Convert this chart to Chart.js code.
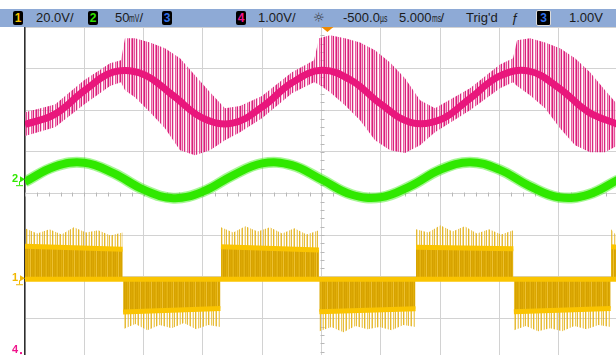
<!DOCTYPE html>
<html><head><meta charset="utf-8">
<script src="https://cdn.jsdelivr.net/npm/chart.js@4.4.0/dist/chart.umd.min.js"></script>
<style>
html,body{margin:0;padding:0;background:#fff;overflow:hidden;width:616px;height:355px;}
#wrap{position:relative;width:616px;height:355px;overflow:hidden;background:#fff;}
#c{position:absolute;left:0;top:0;}
#bar{position:absolute;left:0;top:9px;width:616px;height:18px;background:#8eaad6;font-family:"Liberation Sans",Arial,sans-serif;font-size:13px;color:#1b1b1b;}
#bar span.t{position:absolute;top:0;line-height:18px;white-space:nowrap;}
#bar span.badge{position:absolute;top:2px;height:14px;width:10px;line-height:14px;background:#000;text-align:center;font-weight:bold;border-radius:2px;font-size:12px;}
.u{display:inline-block;width:9px;font-size:11px;transform:scaleX(.62);transform-origin:0 50%;white-space:nowrap;}
</style></head>
<body>
<div id="wrap">
<canvas id="c" width="618" height="360"></canvas>
<div id="bar">
 <span class="badge" style="left:13px;color:#f5c400">1</span>
 <span class="t" style="left:36px">20.0V/</span>
 <span class="badge" style="left:88px;color:#33e000">2</span>
 <span class="t" style="left:115px">50<span class="u" style="width:10px">mV</span>/</span>
 <span class="badge" style="left:162px;color:#3070e8">3</span>
 <span class="badge" style="left:236px;color:#f0148c">4</span>
 <span class="t" style="left:258px">1.00V/</span>
 <span class="t" style="left:313px;font-family:'DejaVu Sans';color:#333">☼</span>
 <span class="t" style="left:343px">-500.0<span class="u" style="width:8px">µs</span></span>
 <span class="t" style="left:399px">5.000<span class="u">ms</span>/</span>
 <span class="t" style="left:466px">Trig'd</span>
 <span class="t" style="left:511px;font-style:italic">ƒ</span>
 <span class="badge" style="left:536px;top:1px;width:13px;height:14px;border:1px solid #dcdcdc;color:#3070e8">3</span>
 <span class="t" style="left:569px">1.00V</span>
</div>
</div>
<script>
// ---------- screen divisions ----------
const divTimes = [-25.5,-20.5,-15.5,-10.5,-5.5,-0.5,4.5,9.5,14.5,19.5,24.5]; // ms, 5 ms/div
const divLevels = [-4,-3,-2,-1,0,1,2,3,4];
const centerTime = -0.5;   // delay -500 us
const triggerTime = 0;

// ---------- channel settings ----------
const ch1VoltsPerDiv = 20,  ch1ZeroDiv = -2.06;   // yellow, V
const ch2MilliVoltsPerDiv = 50, ch2ZeroDiv = 0.32; // green, mV
const ch4VoltsPerDiv = 1,   ch4ZeroDiv = -3.81;   // pink, V

// ---------- sampled traces ----------
const sampleTimes = [-25.5,-23,-20.5,-18,-15.5,-13,-10.5,-8,-5.5,-3,-0.5,2,4.5,7,9.5,12,14.5,17,19.5,22,24.5];
const ch2MilliVolts = [-2.0,16.3,21.0,8.2,-11.4,-21.6,-13.7,5.6,20.2,18.0,0.8,-17.2,-20.6,-7.1,12.5,21.6,12.7,-6.8,-20.6,-17.3,0.4];
const ch4Volts = [5.47,5.71,6.28,6.73,6.67,6.16,5.62,5.50,5.89,6.47,6.77,6.53,5.96,5.52,5.58,6.09,6.63,6.75,6.35,5.77,5.47];

const ch4EnvTimes = [-25.5,-22.97,-20.52,-18.33,-17.41,-17.07,-16.23,-14.96,-13.70,-12.43,-11.17,-9.90,-8.64,-7.37,-5.52,-2.99,-1.13,-0.71,0.22,1.48,2.75,4.01,5.28,6.54,7.81,9.07,12.02,14.55,15.65,15.99,17.08,18.35,19.61,20.88,22.14,23.41,24.5];
const ch4EnvHigh = [5.76,5.95,6.53,6.94,7.01,7.54,7.54,7.44,7.30,7.06,6.65,6.24,5.86,5.91,6.15,6.72,7.01,7.54,7.61,7.54,7.44,7.25,6.96,6.58,6.05,5.86,6.34,6.91,7.06,7.49,7.54,7.44,7.30,7.06,6.72,6.29,5.93];
const ch4EnvLow  = [5.19,5.40,5.95,6.39,6.48,6.29,6.12,5.76,5.38,4.85,4.73,4.85,5.09,5.28,5.62,6.22,6.48,6.43,6.24,5.93,5.57,5.09,4.85,4.78,4.97,5.28,5.81,6.34,6.48,6.39,6.17,5.86,5.38,4.97,4.80,4.80,4.97];

// ch1: PWM, polarity flips at these times (first half-cycle positive)
const ch1SwitchTimes = [-17.25,-9.0,-0.7,7.45,15.7,23.9];
const ch1LevelStart = [15.8,-15.7,15.6,-15.6,15.4,-15.6,15.6];
const ch1LevelEnd   = [14.4,-14.0,14.0,-14.2,14.6,-14.0,15.4];
const ch1SpikePeaks = [
  [24.5,22,24,21.5,25,22.5,23.5,21,22.5],
  [-24,-21.5,-24.5,-22,-23.5,-21,-24,-22,-23],
  [25,22.5,25.5,23,25,22,24.5,21.5,23.5],
  [-25,-23,-25.5,-22.5,-24,-23,-24.5,-22,-23],
  [24,22.5,26,23,25.5,22,24,21.5,23.5],
  [-24.5,-22.5,-25,-23.5,-25,-22.5,-24,-22,-23],
  [24,20]
];

// ---------- build point lists ----------
const pts = (xs, ys) => xs.map((t, i) => ({x: t, y: ys[i]}));
const tStart = divTimes[0], tEnd = divTimes[divTimes.length - 1];
const segBounds = [tStart, ...ch1SwitchTimes, tEnd];
const ch1LevelData = [], ch1SpikeData = [];
for (let i = 0; i < segBounds.length - 1; i++) {
  const last = i === segBounds.length - 2;
  const a = segBounds[i] + (i ? 0.02 : 0), b = segBounds[i + 1] - (last ? 0 : 0.02);
  ch1LevelData.push({x: a, y: ch1LevelStart[i]}, {x: b, y: ch1LevelEnd[i]});
  const pk = ch1SpikePeaks[i];
  pk.forEach((v, j) => ch1SpikeData.push({x: a + (b - a) * j / (pk.length - 1), y: v}));
  if (!last) { ch1LevelData.push({x: segBounds[i + 1], y: null}); ch1SpikeData.push({x: segBounds[i + 1], y: null}); }
}
const ch1ZeroData = [{x: tStart, y: 0}, {x: tEnd, y: 0}];

// ---------- styles ----------
const canvas = document.getElementById('c');
const ctx = canvas.getContext('2d');
function stripes(cols) {
  const c = document.createElement('canvas'); c.width = cols.length; c.height = 1;
  const g = c.getContext('2d');
  cols.forEach((col, i) => { if (col) { g.fillStyle = col; g.fillRect(i, 0, 1, 1); } });
  return ctx.createPattern(c, 'repeat');
}
const yellowBlock = stripes(['rgb(216,164,0)','rgb(222,172,8)','rgb(228,180,20)','rgb(212,160,0)','rgb(220,168,4)','rgb(214,162,0)','rgb(226,176,14)','rgb(218,166,0)','rgb(236,192,50)','rgb(214,162,0)','rgb(220,168,4)']);
const yellowSpikes = stripes(['rgba(226,176,20,0.9)','rgba(240,205,110,0.55)',null,'rgba(230,184,40,0.75)','rgba(244,214,130,0.45)','rgba(222,170,10,0.8)',null,'rgba(236,196,80,0.6)','rgba(226,176,20,0.85)',null,'rgba(244,214,130,0.5)','rgba(230,184,40,0.7)',null]);
const pinkSpikes = stripes(['rgba(212,8,108,0.9)','rgba(240,120,180,0.6)','rgba(224,36,128,0.8)','rgba(250,190,215,0.4)','rgba(208,6,104,0.85)','rgba(245,150,195,0.55)',null,'rgba(226,40,130,0.75)','rgba(238,110,170,0.6)','rgba(212,8,108,0.9)','rgba(250,200,222,0.35)','rgba(230,60,140,0.7)']);
const GREEN = 'rgb(48,232,0)', PINK = 'rgb(233,22,124)', YEL = 'rgb(250,196,0)';

const chanAxis = (perDiv, zeroDiv) => ({type: 'linear', display: false, min: (-4 - zeroDiv) * perDiv, max: (4 - zeroDiv) * perDiv});

const scopeDecor = {
  id: 'scopeDecor',
  beforeDatasetsDraw(chart) {
    const {ctx, scales: {x, grid}} = chart;
    const cx = Math.round(x.getPixelForValue(centerTime)) + 0.5;
    const cy = Math.round(grid.getPixelForValue(0)) + 0.5;
    ctx.save(); ctx.strokeStyle = '#b8b8b8'; ctx.lineWidth = 1; ctx.beginPath();
    for (let t = tStart; t <= tEnd + 1e-9; t += 1) { const px = Math.round(x.getPixelForValue(t)) + 0.5; ctx.moveTo(px, cy - 2); ctx.lineTo(px, cy + 2); }
    for (let d = -4; d <= 4 + 1e-9; d += 0.2) { const py = Math.round(grid.getPixelForValue(d)) + 0.5; ctx.moveTo(cx - 2, py); ctx.lineTo(cx + 2, py); }
    ctx.stroke(); ctx.restore();
  },
  afterDraw(chart) {
    const {ctx, scales} = chart;
    ctx.save();
    const tx = scales.x.getPixelForValue(triggerTime), top = chart.chartArea.top;
    ctx.fillStyle = '#f08a00'; ctx.beginPath(); ctx.moveTo(tx - 6, top); ctx.lineTo(tx + 6, top); ctx.lineTo(tx, top + 5); ctx.closePath(); ctx.fill();
    const marks = [['2', 'y2', GREEN, true], ['1', 'y1', 'rgb(242,184,0)', true], ['4', 'y4', 'rgb(240,20,140)', false]];
    ctx.font = 'bold 11px "Liberation Sans", Arial, sans-serif'; ctx.textBaseline = 'middle';
    for (const [lab, ax, col, arrow] of marks) {
      const py = scales[ax].getPixelForValue(0);
      ctx.fillStyle = col; ctx.strokeStyle = col; ctx.lineWidth = 1;
      if (arrow) {
        ctx.fillText(lab, 12, py - 1);
        ctx.beginPath(); ctx.moveTo(20, py - 4); ctx.lineTo(25, py - 1); ctx.lineTo(20, py + 2); ctx.closePath(); ctx.fill();
        ctx.beginPath(); ctx.moveTo(19.5, py + 1); ctx.lineTo(19.5, py + 5); ctx.moveTo(16, py + 5.5); ctx.lineTo(23, py + 5.5); ctx.stroke();
      } else {
        ctx.fillText(lab, 12, py - 2); ctx.fillRect(20, py, 2, 2);
      }
    }
    ctx.restore();
  }
};

new Chart(ctx, {
  type: 'line',
  data: {
    datasets: [
      {label: 'Ch4', yAxisID: 'y4', data: pts(sampleTimes, ch4Volts), borderColor: PINK, borderWidth: 7, tension: 0.4, order: 0},
      {label: 'Ch4 max', yAxisID: 'y4', data: pts(ch4EnvTimes, ch4EnvHigh), borderWidth: 0, borderColor: 'rgba(0,0,0,0)', fill: false, tension: 0, order: 2},
      {label: 'Ch4 min', yAxisID: 'y4', data: pts(ch4EnvTimes, ch4EnvLow), borderWidth: 0, borderColor: 'rgba(0,0,0,0)', fill: '-1', backgroundColor: pinkSpikes, tension: 0, order: 1},
      {label: 'Ch2', yAxisID: 'y2', data: pts(sampleTimes, ch2MilliVolts), borderColor: GREEN, borderWidth: 8, tension: 0.4, order: 3},
      {label: 'Ch2 noise', yAxisID: 'y2', data: pts(sampleTimes, ch2MilliVolts), borderColor: 'rgba(60,235,20,0.45)', borderWidth: 11, tension: 0.4, order: 4},
      {label: 'Ch1 zero', yAxisID: 'y1', data: ch1ZeroData, borderColor: YEL, borderWidth: 5, order: 5},
      {label: 'Ch1', yAxisID: 'y1', data: ch1LevelData, borderColor: YEL, borderWidth: 5, fill: 'origin', backgroundColor: yellowBlock, spanGaps: false, tension: 0, order: 6},
      {label: 'Ch1 spikes', yAxisID: 'y1', data: ch1SpikeData, borderWidth: 0, borderColor: 'rgba(0,0,0,0)', fill: 'origin', backgroundColor: yellowSpikes, spanGaps: false, tension: 0, order: 7}
    ].map(d => Object.assign({pointRadius: 0, clip: 0, borderCapStyle: 'butt'}, d))
  },
  options: {
    responsive: false, animation: false, devicePixelRatio: 1,
    layout: {padding: {left: 25, top: 27, right: 0, bottom: 0}, autoPadding: false},
    plugins: {legend: {display: false}, tooltip: {enabled: false}},
    scales: {
      x: {type: 'linear', position: 'bottom', min: tStart, max: tEnd,
          grid: {color: '#d2d2d2', lineWidth: 1, drawTicks: false}, ticks: {display: false}, border: {display: false},
          afterBuildTicks: s => { s.ticks = divTimes.map(v => ({value: v})); }},
      grid: {type: 'linear', position: 'left', min: -4, max: 4,
          grid: {color: '#d2d2d2', lineWidth: 1, drawTicks: false}, ticks: {display: false}, border: {display: true, color: '#2e2e2e', width: 1.5},
          afterBuildTicks: s => { s.ticks = divLevels.map(v => ({value: v})); }},
      y1: chanAxis(ch1VoltsPerDiv, ch1ZeroDiv),
      y2: chanAxis(ch2MilliVoltsPerDiv, ch2ZeroDiv),
      y4: chanAxis(ch4VoltsPerDiv, ch4ZeroDiv)
    }
  },
  plugins: [scopeDecor]
});
</script>
</body></html>
